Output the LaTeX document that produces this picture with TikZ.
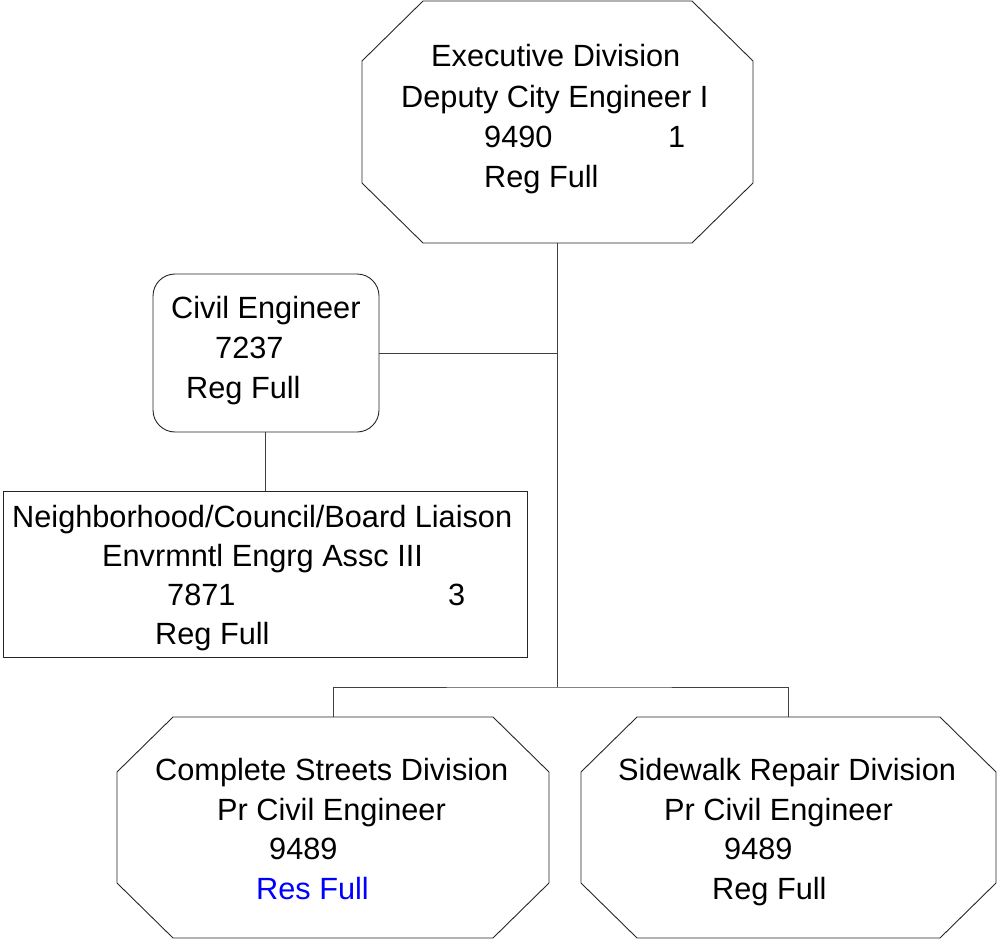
\documentclass[tikz,border=0pt]{standalone}
\usepackage{fontspec}
\setmainfont{Liberation Sans}
\usetikzlibrary{calc}
\definecolor{resblue}{RGB}{0,0,255}
\newcommand\octa[3]{%
  \draw[boxline] ([xshift=#2]#1.north west) -- ([xshift=-#2]#1.north east)
    -- ([yshift=-#3]#1.north east) -- ([yshift=#3]#1.south east)
    -- ([xshift=-#2]#1.south east) -- ([xshift=#2]#1.south west)
    -- ([yshift=#3]#1.south west) -- ([yshift=-#3]#1.north west) -- cycle;}
\begin{document}
\begin{tikzpicture}[x=1pt,y=-1pt,
  boxline/.style={draw=black!85, line width=0.9pt},
  frame/.style={inner sep=0pt, outer sep=0pt},
  conn/.style={draw=black!75, line width=0.9pt},
  txt/.style={anchor=base west, inner sep=0pt, font=\fontsize{30.7}{37}\selectfont}]
\useasboundingbox (0,0) rectangle (997,942);

% frames
\node[frame, minimum width=391pt, minimum height=242pt] (exec) at (557.5,122) {};
\node[frame, boxline, rounded corners=22pt, minimum width=226pt, minimum height=158pt] (civil) at (266,353) {};
\node[frame, boxline, minimum width=524pt, minimum height=166pt] (liaison) at (265,574) {};
\node[frame, minimum width=432pt, minimum height=221pt] (complete) at (333,827.5) {};
\node[frame, minimum width=415pt, minimum height=221pt] (sidewalk) at (788.5,827.5) {};

\octa{exec}{61pt}{60pt}
\octa{complete}{56pt}{55pt}
\octa{sidewalk}{56pt}{55pt}

% texts
\node[txt] (e1) at (431,67) {Executive Division};
\node[txt] (e2) at (401,107) {Deputy City Engineer I};
\node[txt] (e3) at (484,147) {9490};
\node[txt] (e4) at (668,147) {1};
\node[txt] (e5) at (484,187) {Reg Full};

\node[txt] (c1) at (171,318) {Civil Engineer};
\node[txt] (c2) at (215,358) {7237};
\node[txt] (c3) at (186,398) {Reg Full};

\node[txt] (l1) at (12,527) {Neighborhood/Council/Board Liaison};
\node[txt] (l2) at (102,566) {Envrmntl Engrg Assc III};
\node[txt] (l3) at (167,605) {7871};
\node[txt] (l4) at (448,605) {3};
\node[txt] (l5) at (155,644) {Reg Full};

\node[txt] (s1) at (155,780) {Complete Streets Division};
\node[txt] (s2) at (217,820) {Pr Civil Engineer};
\node[txt] (s3) at (269,859) {9489};
\node[txt, text=resblue] (s4) at (256,899) {Res Full};

\node[txt] (w1) at (618,780) {Sidewalk Repair Division};
\node[txt] (w2) at (664,820) {Pr Civil Engineer};
\node[txt] (w3) at (724,859) {9489};
\node[txt] (w4) at (712,899) {Reg Full};

% connectors
\coordinate (j1) at (exec.south |- civil.east);
\coordinate (j2) at ($(exec.south)+(0,444)$);
\coordinate (lt) at (liaison.north);
\draw[conn] (exec.south) -- (j2);
\draw[conn] (civil.east) -- (j1);
\draw[conn] (lt |- civil.south) -- (lt);
\draw[conn] (complete.north) |- (j2) -| (sidewalk.north);
\end{tikzpicture}
\end{document}
